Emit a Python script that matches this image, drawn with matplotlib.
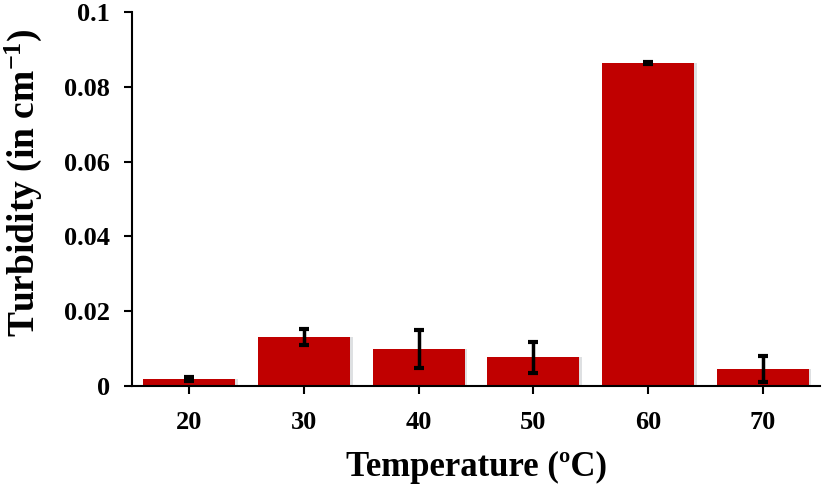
import matplotlib
matplotlib.use("Agg")
import matplotlib.pyplot as plt
import numpy as np

# values
temps = ["20", "30", "40", "50", "60", "70"]
turbidity = [0.0019, 0.0131, 0.0100, 0.0077, 0.0864, 0.0045]
errors = [0.0006, 0.0022, 0.0051, 0.0041, 0.0003, 0.0034]

plt.rcParams['font.family'] = 'Liberation Serif'
plt.rcParams['font.weight'] = 'bold'
plt.rcParams['mathtext.fontset'] = 'custom'
plt.rcParams['mathtext.rm'] = 'Liberation Serif:bold'
plt.rcParams['mathtext.default'] = 'rm'

fig = plt.figure(figsize=(8.22, 4.86), dpi=100)
ax = fig.add_axes([0.1606, 0.2058, 0.837, 0.7695])

x = np.arange(len(temps))
# soft shadow behind the bars
ax.bar(x + 0.025, turbidity, width=0.8, color='#c8ccd0', alpha=0.6, zorder=1)
ax.bar(x, turbidity, width=0.8, color='#C00000', zorder=2)
ax.errorbar(x, turbidity, yerr=errors, fmt='none', ecolor='black',
            elinewidth=2.5, capsize=3.5, capthick=3, zorder=3)

ax.set_xlim(-0.5, len(temps) - 0.5)
ax.set_ylim(0, 0.1)
ax.set_xticks(x)
ax.set_xticklabels(temps)
ax.set_yticks([0, 0.02, 0.04, 0.06, 0.08, 0.1])
ax.set_yticklabels(["0", "0.02", "0.04", "0.06", "0.08", "0.1"])
ax.tick_params(axis='both', labelsize=19, width=1.5, length=6)
ax.tick_params(axis='y', pad=10)
ax.tick_params(axis='x', pad=12)

for s in ['top', 'right']:
    ax.spines[s].set_visible(False)
for s in ['left', 'bottom']:
    ax.spines[s].set_linewidth(1.5)

ax.set_xlabel("Temperature (ºC)", fontsize=25, fontweight='bold')
ax.set_ylabel(r"Turbidity (in cm$^{-1}$)", fontsize=27, fontweight='bold')
ax.xaxis.set_label_coords(0.5, -0.175)
ax.yaxis.set_label_coords(-0.128, 0.545)

fig.savefig("out.png", dpi=100)
